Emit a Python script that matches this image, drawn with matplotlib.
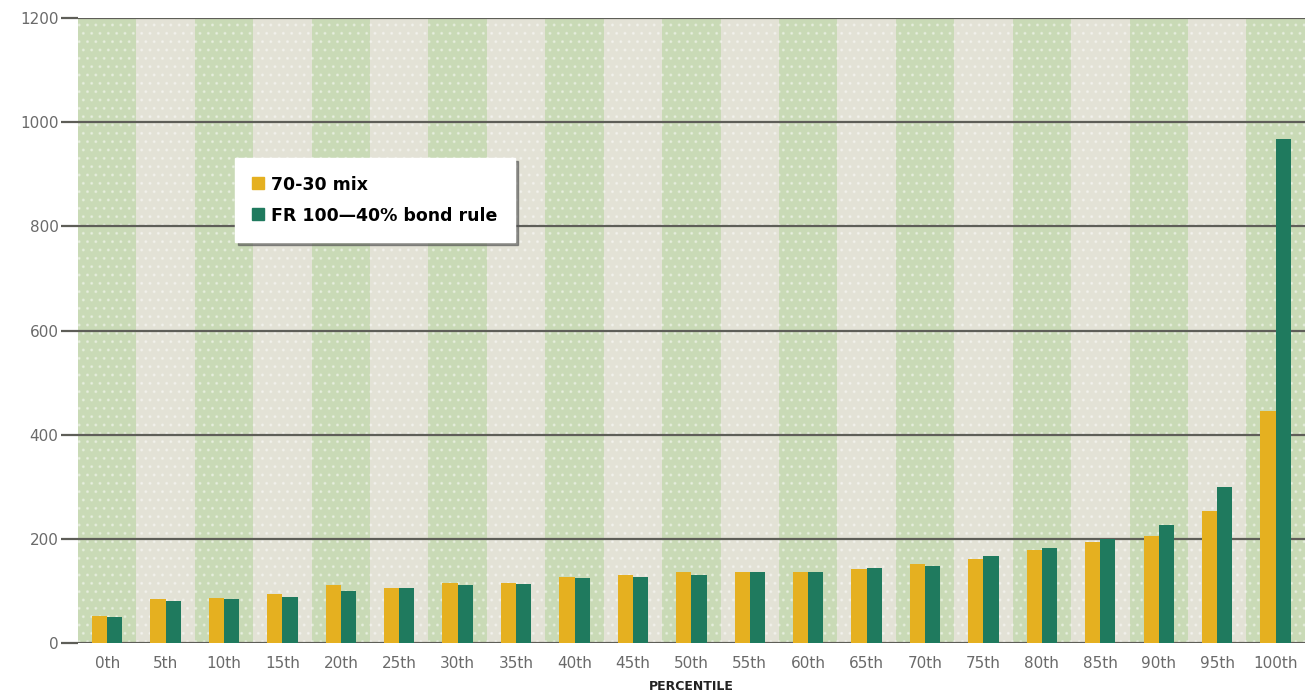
import matplotlib
matplotlib.use("Agg")
import matplotlib.pyplot as plt
import numpy as np
from matplotlib.lines import Line2D

categories = ["0th", "5th", "10th", "15th", "20th", "25th", "30th", "35th", "40th", "45th",
              "50th", "55th", "60th", "65th", "70th", "75th", "80th", "85th", "90th", "95th", "100th"]
mix_70_30 = [52, 84, 87, 94, 111, 106, 116, 115, 126, 130,
             136, 136, 136, 143, 151, 162, 178, 194, 206, 254, 446]
fr_bond_rule = [50, 81, 84, 89, 100, 105, 111, 113, 124, 126,
                131, 136, 136, 145, 147, 167, 182, 200, 227, 300, 968]
yticks = [0, 200, 400, 600, 800, 1000, 1200]

c_yellow = "#E5B020"
c_green = "#1F7A5E"
band_green = "#C9DAB6"
band_light = "#E3E2D6"

fig = plt.figure(figsize=(13.1, 7.0), dpi=100)
ax = fig.add_axes([0.0595, 0.0814, 0.9365, 0.8926])

x = np.arange(len(categories))
for i in x:
    ax.axvspan(i - 0.5, i + 0.5, color=band_green if i % 2 == 0 else band_light,
               zorder=0, lw=0)
    ax.axvspan(i - 0.5, i + 0.5, facecolor="none", hatch="..",
               edgecolor=(1, 1, 1, 0.35), lw=0, zorder=0.5)

w = 0.26
ax.bar(x - w / 2, mix_70_30, width=w, color=c_yellow, zorder=3)
ax.bar(x + w / 2, fr_bond_rule, width=w, color=c_green, zorder=3)

ax.set_xlim(-0.5, len(categories) - 0.5)
ax.set_ylim(0, 1200)
ax.set_yticks(yticks)
ax.set_yticklabels([str(v) for v in yticks])
ax.set_xticks(x)
ax.set_xticklabels(categories)
ax.yaxis.grid(True, color="#5E5E58", lw=1.6, zorder=2)
ax.set_axisbelow(False)
for s in ax.spines.values():
    s.set_visible(False)
ax.tick_params(axis="y", length=12, width=1.6, color="#5E5E58", labelcolor="#6A6A6A",
               labelsize=11, pad=2)
ax.tick_params(axis="x", length=0, labelcolor="#6A6A6A", labelsize=11, pad=9)
for lab in ax.get_xticklabels() + ax.get_yticklabels():
    lab.set_zorder(5)

ax.set_xlabel("PERCENTILE", fontsize=9, fontweight="bold", color="#222222", labelpad=7)

handles = [Line2D([], [], marker="s", ls="", color=c_yellow, markersize=8),
           Line2D([], [], marker="s", ls="", color=c_green, markersize=8)]
leg = ax.legend(handles, ["70-30 mix", "FR 100\u201440% bond rule"],
                loc="upper left", bbox_to_anchor=(0.128, 0.776),
                frameon=True, fancybox=False, shadow={"color": "#555555", "alpha": 0.6},
                prop={"weight": "bold", "size": 12.5},
                handlelength=0.7, handletextpad=0.4, labelspacing=0.75,
                borderpad=1.0, borderaxespad=0)
leg.get_frame().set_edgecolor("white")
leg.get_frame().set_facecolor("white")
leg.get_frame().set_alpha(1)
leg.set_zorder(10)

fig.savefig("out.png", dpi=100, facecolor="white")
